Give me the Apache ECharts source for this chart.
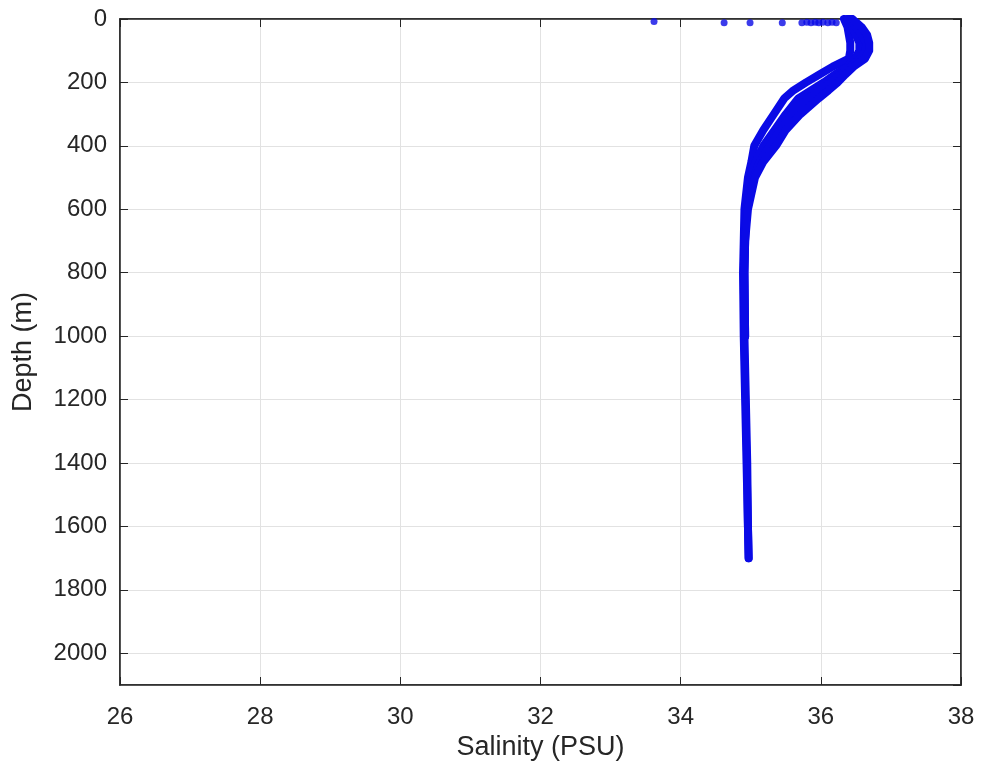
<!DOCTYPE html>
<html>
<head>
<meta charset="utf-8">
<script src="https://cdn.jsdelivr.net/npm/echarts@6/dist/echarts.min.js"></script>
<style>
html,body{margin:0;padding:0;background:#fff;}
#chart{width:981px;height:769px;}
</style>
</head>
<body>
<div id="chart"></div>
<script>
// Depth levels (m) shared by the profiles
var depths = [0,10,25,50,75,100,125,150,175,200,225,250,300,350,400,450,500,600,700,800,1000,1200,1400,1600,1700];
// Salinity profiles (PSU)
var profile1 = [36.33,36.35,36.38,36.40,36.42,36.42,36.40,36.17,35.98,35.79,35.61,35.48,35.33,35.18,35.05,35.01,34.96,34.91,34.90,34.89,34.90,34.92,34.94,34.96,34.97];
var profile2 = [36.38,36.42,36.45,36.50,36.55,36.55,36.49,36.38,36.20,36.04,35.86,35.68,35.50,35.34,35.18,35.07,35.00,34.93,34.91,34.90,34.91,34.93,34.95,34.96,34.97];
var profile3 = [36.42,36.45,36.50,36.58,36.65,36.64,36.56,36.42,36.28,36.14,35.98,35.82,35.59,35.42,35.27,35.13,35.04,34.94,34.92,34.91,34.92];
var profile4 = [36.45,36.50,36.58,36.66,36.69,36.69,36.63,36.47,36.35,36.24,36.11,35.97,35.71,35.50,35.36,35.18,35.06,34.96,34.92,34.91,34.92];
// Isolated near-surface samples
var surfaceSal   = [33.62,34.62,34.99,35.45,35.73,35.80,35.86,35.92,35.97,36.03,36.10,36.16,36.22];
var surfaceDepth = [8,12,12,12,12,10,12,10,12,10,12,10,12];
// Axis ticks
var xTicks = [26,28,30,32,34,36,38];
var yTicks = [0,200,400,600,800,1000,1200,1400,1600,1800,2000];

var BLUE = '#0a0ae6';
var TXT = '#262626';
var FONT = '"Liberation Sans", Arial, Helvetica, sans-serif';

function toPairs(sal){
  var out = [];
  for (var i = 0; i < sal.length; i++) out.push([sal[i], depths[i]]);
  return out;
}
var profiles = [profile1, profile2, profile3, profile4];
var series = profiles.map(function(p){
  return {
    type: 'line', xAxisIndex: 0, yAxisIndex: 0,
    data: toPairs(p), showSymbol: false, symbol: 'none', smooth: false,
    lineStyle: {color: BLUE, width: 8, cap: 'round', join: 'round'},
    silent: true, animation: false
  };
});
series.push({
  type: 'scatter', xAxisIndex: 0, yAxisIndex: 0,
  data: surfaceSal.map(function(s, i){ return [s, surfaceDepth[i]]; }),
  symbolSize: 7, itemStyle: {color: BLUE}, silent: true, animation: false
});

var chart = echarts.init(document.getElementById('chart'), null, {renderer: 'canvas'});
chart.setOption({
  backgroundColor: '#fff',
  animation: false,
  grid: {left: 120, right: 20, top: 19, bottom: 84, show: true, borderColor: TXT, borderWidth: 1.5, backgroundColor: 'transparent'},
  xAxis: [{
    type: 'value', position: 'bottom', min: xTicks[0], max: xTicks[xTicks.length-1], interval: 2,
    axisLine: {show: true, onZero: false, lineStyle: {color: TXT, width: 1.5}},
    axisTick: {show: true, inside: true, length: 8, lineStyle: {color: TXT}},
    axisLabel: {color: TXT, fontSize: 24, fontFamily: FONT, margin: 20},
    splitLine: {show: true, lineStyle: {color: '#e2e2e2', width: 1}},
    name: 'Salinity (PSU)', nameLocation: 'middle', nameGap: 48,
    nameTextStyle: {color: TXT, fontSize: 27, fontFamily: FONT}
  },{
    type: 'value', position: 'top', min: xTicks[0], max: xTicks[xTicks.length-1], interval: 2,
    axisLine: {show: true, onZero: false, lineStyle: {color: TXT, width: 1.5}},
    axisTick: {show: true, inside: true, length: 8, lineStyle: {color: TXT}},
    axisLabel: {show: false}, splitLine: {show: false}
  }],
  yAxis: [{
    type: 'value', position: 'left', inverse: true, min: 0, max: 2100, interval: 200,
    axisLine: {show: true, onZero: false, lineStyle: {color: TXT, width: 1.5}},
    axisTick: {show: true, inside: true, length: 8, lineStyle: {color: TXT}},
    axisLabel: {color: TXT, fontSize: 24, fontFamily: FONT, margin: 13, showMaxLabel: false,
      formatter: function(v){ return yTicks.indexOf(v) >= 0 ? String(v) : ''; }},
    splitLine: {show: true, lineStyle: {color: '#e2e2e2', width: 1}},
    name: 'Depth (m)', nameLocation: 'middle', nameGap: 83,
    nameTextStyle: {color: TXT, fontSize: 27, fontFamily: FONT}
  },{
    type: 'value', position: 'right', inverse: true, min: 0, max: 2100, interval: 200,
    axisLine: {show: true, onZero: false, lineStyle: {color: TXT, width: 1.5}},
    axisTick: {show: true, inside: true, length: 8, lineStyle: {color: TXT}},
    axisLabel: {show: false}, splitLine: {show: false}
  }],
  series: series
});
</script>
</body>
</html>
